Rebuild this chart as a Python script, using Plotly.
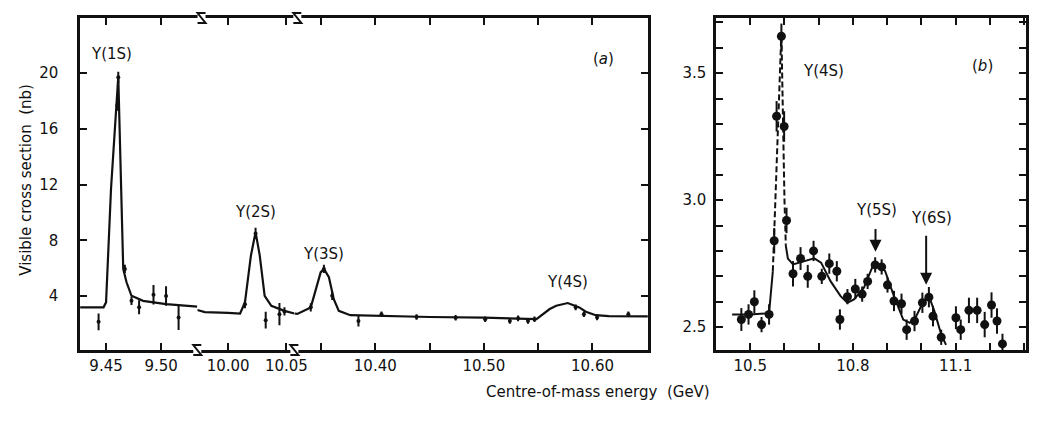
import plotly.graph_objects as go

# ---------------- data: panel (a), three broken-axis segments ----------------
# segment 1 (around Y(1S))
a1_curve_E = [9.4264, 9.4477, 9.4500, 9.4545, 9.4611, 9.4641, 9.4656, 9.4686, 9.4731, 9.4836, 9.5045, 9.5329]
a1_curve_s = [3.19, 3.19, 3.55, 11.7, 19.76, 10.3, 5.95, 4.99, 4.02, 3.66, 3.42, 3.25]
a1_pts_E = [9.4432, 9.4602, 9.4611, 9.4671, 9.4731, 9.4800, 9.4931, 9.5045, 9.5159]
a1_pts_s = [2.15, 17.7, 19.7, 5.95, 3.66, 3.2, 4.1, 4.0, 2.46]
a1_pts_e = [0.6, 0.4, 0.4, 0.3, 0.3, 0.5, 0.7, 0.7, 0.9]

# segment 2 (around Y(2S))
a2_curve_E = [9.9735, 9.9800, 10.0000, 10.0102, 10.0144, 10.0195, 10.0235, 10.0271, 10.0313, 10.0370, 10.0483, 10.0568]
a2_curve_s = [3.0, 2.85, 2.8, 2.75, 3.55, 6.9, 8.59, 6.9, 4.02, 3.3, 2.94, 2.75]
a2_pts_E = [10.0144, 10.0235, 10.0322, 10.0440, 10.0483]
a2_pts_s = [3.42, 8.5, 2.27, 2.7, 2.9]
a2_pts_e = [0.3, 0.4, 0.6, 0.8, 0.3]

# segment 3 (Y(3S) and Y(4S))
a3_curve_E = [10.3255, 10.3282, 10.3406, 10.3451, 10.3497, 10.3527, 10.3573, 10.3618, 10.3664, 10.3770,
              10.400, 10.450, 10.500, 10.5484, 10.5606, 10.5666, 10.5772, 10.5878, 10.5939, 10.603, 10.615, 10.651]
a3_curve_s = [2.75, 2.72, 3.19, 4.5, 5.7, 5.95, 5.35, 3.78, 2.94, 2.63,
              2.58, 2.5, 2.45, 2.34, 3.07, 3.31, 3.5, 3.19, 2.88, 2.63, 2.56, 2.54]
a3_pts_E = [10.3406, 10.3527, 10.3603, 10.3845, 10.4057, 10.4380, 10.4740, 10.5012, 10.5239, 10.5315,
            10.5406, 10.5466, 10.5845, 10.5921, 10.6042, 10.6330]
a3_pts_s = [3.19, 5.95, 4.02, 2.22, 2.7, 2.5, 2.45, 2.34, 2.22, 2.4, 2.22, 2.34, 3.19, 2.7, 2.46, 2.7]
a3_pts_e = [0.3, 0.3, 0.3, 0.4, 0.2, 0.2, 0.2, 0.2, 0.2, 0.2, 0.2, 0.2, 0.2, 0.2, 0.2, 0.2]

# ---------------- data: panel (b) ----------------
b_pts_E = [10.474, 10.495, 10.512, 10.533, 10.555, 10.570, 10.577, 10.591, 10.599, 10.606,
           10.625, 10.647, 10.668, 10.685, 10.709, 10.731, 10.753, 10.762, 10.784, 10.807,
           10.827, 10.843, 10.865, 10.884, 10.901, 10.920, 10.942, 10.957, 10.980, 11.003,
           11.022, 11.034, 11.058, 11.101, 11.115, 11.139, 11.163, 11.185, 11.205, 11.221, 11.237]
b_pts_s = [2.53, 2.55, 2.60, 2.51, 2.55, 2.84, 3.33, 3.645, 3.29, 2.92,
           2.71, 2.77, 2.70, 2.80, 2.70, 2.75, 2.72, 2.53, 2.62, 2.65,
           2.63, 2.68, 2.745, 2.737, 2.666, 2.603, 2.592, 2.49, 2.524, 2.596,
           2.618, 2.543, 2.46, 2.537, 2.49, 2.566, 2.566, 2.51, 2.587, 2.524, 2.434]
b_pts_e = [0.045, 0.04, 0.045, 0.03, 0.04, 0.05, 0.06, 0.05, 0.06, 0.05,
           0.05, 0.045, 0.045, 0.04, 0.03, 0.04, 0.04, 0.04, 0.03, 0.04,
           0.03, 0.03, 0.03, 0.03, 0.03, 0.04, 0.04, 0.04, 0.04, 0.04,
           0.04, 0.04, 0.03, 0.045, 0.04, 0.05, 0.05, 0.05, 0.05, 0.05, 0.04]
b_fit1_E = [10.447, 10.500, 10.555, 10.566]
b_fit1_s = [2.55, 2.55, 2.555, 2.72]
b_peak_E = [10.566, 10.572, 10.591, 10.600, 10.604]
b_peak_s = [2.72, 2.95, 3.66, 3.0, 2.82]
b_fit2_E = [10.604, 10.610, 10.625, 10.659, 10.687, 10.707, 10.735, 10.764, 10.784, 10.803, 10.832,
            10.860, 10.870, 10.894, 10.918, 10.947, 10.966, 10.985, 11.004, 11.021, 11.038, 11.058, 11.072]
b_fit2_s = [2.82, 2.77, 2.747, 2.76, 2.771, 2.754, 2.68, 2.622, 2.596, 2.609, 2.655,
            2.747, 2.754, 2.721, 2.629, 2.53, 2.517, 2.543, 2.596, 2.626, 2.563, 2.471, 2.43]

# ---------------- ticks ----------------
a1_tickvals = [9.45, 9.50]
a1_ticktext = ["9.45", "9.50"]
a2_tickvals = [10.00, 10.05]
a2_ticktext = ["10.00", "10.05"]
a3_tickvals = [10.35, 10.40, 10.45, 10.50, 10.55, 10.60]
a3_ticktext = ["", "10.40", "", "10.50", "", "10.60"]
a_ytickvals = [4, 8, 12, 16, 20]
b_xtickvals = [10.5, 10.6, 10.7, 10.8, 10.9, 11.0, 11.1, 11.2, 11.3]
b_xticktext = ["10.5", "", "", "10.8", "", "", "11.1", "", ""]
b_ytickvals = [2.5, 2.6, 2.7, 2.8, 2.9, 3.0, 3.1, 3.2, 3.3, 3.4, 3.5, 3.6, 3.7]
b_yticktext = ["2.5", "", "", "", "", "3.0", "", "", "", "", "3.5", "", ""]

W, H = 1038, 426
MT, MB = 10, 84
PH = H - MT - MB


def px(x):
    return x / W


def py(y):
    return (H - MB - y) / PH


FONT = "DejaVu Sans"
BLACK = "#111111"

fig = go.Figure()

curve_style = dict(mode="lines", line=dict(color=BLACK, width=2.2), showlegend=False, hoverinfo="skip")
pt_style_a = dict(mode="markers", marker=dict(color=BLACK, size=4), showlegend=False)

fig.add_trace(go.Scatter(x=a1_curve_E, y=a1_curve_s, xaxis="x", yaxis="y", **curve_style))
fig.add_trace(go.Scatter(x=a1_pts_E, y=a1_pts_s, xaxis="x", yaxis="y",
                         error_y=dict(type="data", array=a1_pts_e, color=BLACK, thickness=2, width=0), **pt_style_a))
fig.add_trace(go.Scatter(x=a2_curve_E, y=a2_curve_s, xaxis="x2", yaxis="y", **curve_style))
fig.add_trace(go.Scatter(x=a2_pts_E, y=a2_pts_s, xaxis="x2", yaxis="y",
                         error_y=dict(type="data", array=a2_pts_e, color=BLACK, thickness=2, width=0), **pt_style_a))
fig.add_trace(go.Scatter(x=a3_curve_E, y=a3_curve_s, xaxis="x3", yaxis="y3", **curve_style))
fig.add_trace(go.Scatter(x=a3_pts_E, y=a3_pts_s, xaxis="x3", yaxis="y3",
                         error_y=dict(type="data", array=a3_pts_e, color=BLACK, thickness=2, width=0), **pt_style_a))

# panel b
fig.add_trace(go.Scatter(x=b_fit1_E, y=b_fit1_s, xaxis="x4", yaxis="y2", mode="lines",
                         line=dict(color=BLACK, width=2), showlegend=False))
fig.add_trace(go.Scatter(x=b_peak_E, y=b_peak_s, xaxis="x4", yaxis="y2", mode="lines",
                         line=dict(color=BLACK, width=2, dash="6px,3px"), showlegend=False))
fig.add_trace(go.Scatter(x=b_fit2_E, y=b_fit2_s, xaxis="x4", yaxis="y2", mode="lines",
                         line=dict(color=BLACK, width=2), showlegend=False))
fig.add_trace(go.Scatter(x=b_pts_E, y=b_pts_s, xaxis="x4", yaxis="y2", mode="markers",
                         marker=dict(color=BLACK, size=9),
                         error_y=dict(type="data", array=b_pts_e, color=BLACK, thickness=2, width=0),
                         showlegend=False))

tickfont = dict(family=FONT, size=15, color=BLACK)
common_x = dict(showline=True, linewidth=2.5, linecolor=BLACK, ticks="inside", ticklen=7, tickwidth=2,
                tickcolor=BLACK, mirror="ticks", showgrid=False, zeroline=False, tickfont=tickfont,
                tickmode="array", ticklabelstandoff=0)
common_y = dict(showline=True, linewidth=2.5, linecolor=BLACK, ticks="inside", ticklen=7, tickwidth=2,
                tickcolor=BLACK, showgrid=False, zeroline=False, tickfont=tickfont, tickmode="array")

a_yrange = [0.13, 23.96]
x1d = [px(73), px(191.7)]
x2d = [px(191.7), px(290)]
x3d = [px(290), px(648)]
x4d = [px(717), px(1031)]

fig.update_layout(
    width=W, height=H,
    margin=dict(l=0, r=0, t=MT, b=MB),
    paper_bgcolor="white", plot_bgcolor="white",
    showlegend=False,
    xaxis=dict(domain=x1d, range=[9.4264, 9.5329], anchor="y", tickvals=a1_tickvals, ticktext=a1_ticktext, **common_x),
    xaxis2=dict(domain=x2d, range=[9.9735, 10.0568], anchor="y", tickvals=a2_tickvals, ticktext=a2_ticktext, **common_x),
    xaxis3=dict(domain=x3d, range=[10.3255, 10.651], anchor="y", tickvals=a3_tickvals, ticktext=a3_ticktext, **common_x),
    yaxis=dict(domain=[0, 1], range=a_yrange, anchor="x", tickvals=a_ytickvals,
               ticktext=[str(v) for v in a_ytickvals], ticklabelstandoff=16, **common_y),
    yaxis3=dict(domain=[0, 1], range=a_yrange, anchor="x3", overlaying="y", side="right",
                tickvals=a_ytickvals, showticklabels=False, **common_y),
    xaxis4=dict(domain=x4d, range=[10.40, 11.306], anchor="y2", tickvals=b_xtickvals, ticktext=b_xticktext, **common_x),
    yaxis2=dict(domain=[0, 1], range=[2.41, 3.717], anchor="x4", tickvals=b_ytickvals, ticktext=b_yticktext,
                mirror="ticks", ticklabelstandoff=4, **common_y),
)

ann_font = dict(family=FONT, size=15, color=BLACK)
labels = [
    ("x", "y", 9.4545, 21.4, "Υ(1S)"),
    ("x2", "y", 10.0237, 10.0, "Υ(2S)"),
    ("x3", "y3", 10.3527, 7.0, "Υ(3S)"),
    ("x3", "y3", 10.577, 5.0, "Υ(4S)"),
    ("x4", "y2", 10.715, 3.51, "Υ(4S)"),
    ("x4", "y2", 10.868, 2.96, "Υ(5S)"),
    ("x4", "y2", 11.03, 2.93, "Υ(6S)"),
]
for xr, yr, xv, yv, t in labels:
    fig.add_annotation(x=xv, y=yv, xref=xr, yref=yr, text=t, showarrow=False, font=ann_font)

fig.add_annotation(x=10.61, y=21.0, xref="x3", yref="y3", text="(<i>a</i>)", showarrow=False, font=ann_font)
fig.add_annotation(x=11.18, y=3.53, xref="x4", yref="y2", text="(<i>b</i>)", showarrow=False, font=ann_font)

# arrows for Y(5S) and Y(6S)
fig.add_annotation(x=10.866, y=2.797, ax=10.866, ay=2.892, xref="x4", yref="y2", axref="x4", ayref="y2",
                   text="", showarrow=True, arrowhead=2, arrowsize=1.2, arrowwidth=2, arrowcolor=BLACK)
fig.add_annotation(x=11.014, y=2.667, ax=11.014, ay=2.866, xref="x4", yref="y2", axref="x4", ayref="y2",
                   text="", showarrow=True, arrowhead=2, arrowsize=1.2, arrowwidth=2, arrowcolor=BLACK)

# axis titles
fig.add_annotation(x=px(597), y=py(384), xref="paper", yref="paper", xanchor="center", yanchor="middle",
                   text="Centre-of-mass energy  (GeV)",
                   showarrow=False, font=dict(family=FONT, size=15, color=BLACK))
fig.add_annotation(x=px(18), y=py(172), xref="paper", yref="paper", xanchor="center", yanchor="middle",
                   text="Visible cross section  (nb)",
                   textangle=-90, showarrow=False, font=dict(family=FONT, size=15, color=BLACK))

# axis break marks (zig-zags on top and bottom frame lines)
zz = "M -4,-5 L 4,-5 L -4,5 L 4,5"
for bx, yb in [(191.7, 0), (290, 0), (196, 1), (293, 1)]:
    fig.add_shape(type="rect", xref="paper", yref="paper", xsizemode="pixel", ysizemode="pixel",
                  xanchor=px(bx), yanchor=yb, x0=-4, x1=4, y0=-5, y1=5,
                  fillcolor="white", line=dict(width=0))
    fig.add_shape(type="path", xref="paper", yref="paper", xsizemode="pixel", ysizemode="pixel",
                  xanchor=px(bx), yanchor=yb, path=zz, line=dict(color=BLACK, width=2))

fig.write_html("out.html")
